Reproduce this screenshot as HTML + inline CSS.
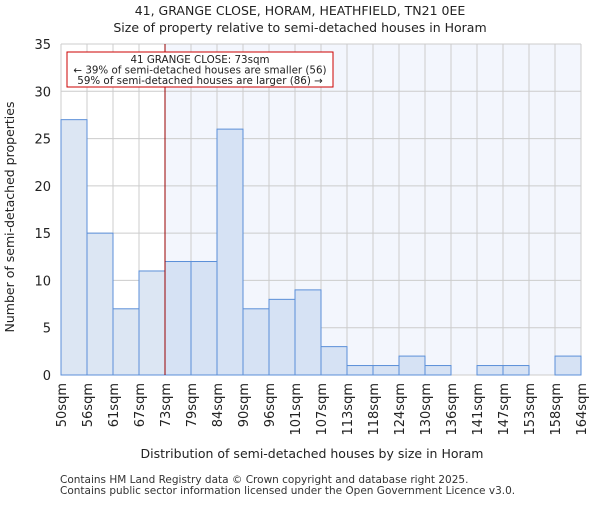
<!DOCTYPE html>
<html><head><meta charset="utf-8"><style>body{margin:0;background:#fff}svg{font-family:"DejaVu Sans","Liberation Sans",sans-serif}</style></head>
<body>
<svg width="600" height="500" xmlns="http://www.w3.org/2000/svg">
<g id="g"></g>
</svg>
<script>
const categories=["50sqm","56sqm","61sqm","67sqm","73sqm","79sqm","84sqm","90sqm","96sqm","101sqm","107sqm","113sqm","118sqm","124sqm","130sqm","136sqm","141sqm","147sqm","153sqm","158sqm","164sqm"];
const counts=[27,15,7,11,12,12,26,7,8,9,3,1,1,2,1,0,1,1,0,2];
const yTicks=[0,5,10,15,20,25,30,35];
const markerIndex=4;
const L=61,R=581,T=44,B=375,yMax=35;
const bw=(R-L)/counts.length;
const x=i=>L+i*bw, y=v=>B-(v/yMax)*(B-T);
const NS="http://www.w3.org/2000/svg", g=document.getElementById('g');
function el(t,a,txt){const e=document.createElementNS(NS,t);for(const k in a)e.setAttribute(k,a[k]);if(txt!==undefined)e.textContent=txt;g.appendChild(e);return e;}
let e;
e=el('rect',{x:x(markerIndex),y:T,width:R-x(markerIndex),height:B-T,fill:'#f3f6fd'});

yTicks.forEach(v=>{e=el('line',{x1:L,x2:R,y1:y(v),y2:y(v),stroke:'#ccc','stroke-width':1});

e=el('text',{x:L-10,y:y(v)+5,'text-anchor':'end','font-size':13,fill:'#222'},v);
});
categories.forEach((c,i)=>{e=el('line',{x1:x(i),x2:x(i),y1:T,y2:B,stroke:'#ccc','stroke-width':1});

e=el('text',{transform:`translate(${x(i)+5},${B+8}) rotate(-90)`,'text-anchor':'end','font-size':13,fill:'#222'},c);
});
counts.forEach((v,i)=>{if(v<=0)return;e=el('rect',{x:x(i),y:y(v),width:bw,height:B-y(v),fill:i<markerIndex?'#dce6f3':'#d6e2f4',stroke:'#5b8fd8','stroke-width':1});
});
e=el('line',{x1:x(markerIndex),x2:x(markerIndex),y1:T,y2:B,stroke:'#900','stroke-width':1});

e=el('rect',{x:67,y:52,width:266,height:35,fill:'#fff',stroke:'#c00','stroke-width':1});

[["41 GRANGE CLOSE: 73sqm",63],["← 39% of semi-detached houses are smaller (56)",73.5],["59% of semi-detached houses are larger (86) →",84]].forEach(a=>{
e=el('text',{x:200,y:a[1],'text-anchor':'middle','font-size':10.3,fill:'#222'},a[0]);
});
e=el('text',{x:300,y:15,'text-anchor':'middle','font-size':12.5,fill:'#222'},"41, GRANGE CLOSE, HORAM, HEATHFIELD, TN21 0EE");

e=el('text',{x:300,y:32,'text-anchor':'middle','font-size':12.5,fill:'#222'},"Size of property relative to semi-detached houses in Horam");

e=el('text',{x:312,y:458,'text-anchor':'middle','font-size':12.5,fill:'#222'},"Distribution of semi-detached houses by size in Horam");

e=el('text',{transform:'translate(14,217) rotate(-90)','text-anchor':'middle','font-size':12.5,fill:'#222'},"Number of semi-detached properties");

e=el('text',{x:60,y:483,'font-size':10.5,fill:'#333'},"Contains HM Land Registry data © Crown copyright and database right 2025.");

e=el('text',{x:60,y:494,'font-size':10.5,fill:'#333'},"Contains public sector information licensed under the Open Government Licence v3.0.");

</script>
</body></html>
